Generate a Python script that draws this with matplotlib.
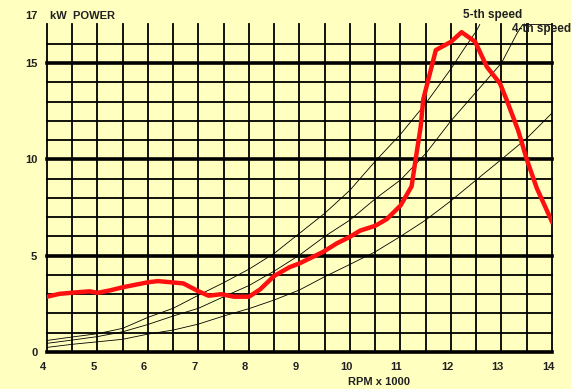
import matplotlib.pyplot as plt
import matplotlib.transforms as mtransforms
import numpy as np

plt.rcParams['font.family'] = ['Liberation Sans', 'DejaVu Sans']

# thin black resistance curves
rpm_a = [4.0, 4.5, 5.0, 5.5, 6.0, 6.5, 7.0, 7.5, 8.0, 8.5, 9.0, 9.5, 10.0,
         10.5, 11.0, 11.5, 12.0, 12.25, 12.5, 12.57]
kw_a = [0.6, 0.78, 0.95, 1.23, 1.8, 2.27, 2.95, 3.6, 4.3, 5.12, 6.16, 7.2, 8.4,
        9.9, 11.3, 12.9, 14.7, 15.7, 16.65, 17.0]

rpm_b = [4.0, 4.5, 5.0, 5.5, 6.0, 6.5, 7.0, 7.5, 8.0, 8.5, 9.0, 9.5, 10.0,
         10.5, 11.0, 11.5, 12.0, 12.5, 13.0, 13.3, 13.42, 14.0]
kw_b = [0.45, 0.62, 0.8, 1.05, 1.43, 1.87, 2.27, 2.87, 3.45, 4.2, 5.03, 6.0, 6.85,
        7.95, 8.93, 10.3, 12.0, 13.5, 15.0, 16.5, 17.0, 17.0]

rpm_c = [4.0, 4.5, 5.0, 5.5, 6.0, 6.5, 7.0, 7.5, 8.0, 8.5, 9.0, 9.5, 10.0,
         10.5, 11.0, 11.5, 12.0, 12.5, 13.0, 13.5, 14.0]
kw_c = [0.24, 0.4, 0.53, 0.66, 0.93, 1.14, 1.45, 1.87, 2.25, 2.7, 3.22, 3.91, 4.55,
        5.2, 6.0, 6.85, 7.85, 8.93, 10.0, 11.09, 12.4]

# engine power (red)
rpm_p = [4.0, 4.25, 4.6, 4.85, 5.0, 5.25, 5.5, 6.0, 6.2, 6.45, 6.7, 7.0, 7.2,
         7.45, 7.7, 8.0, 8.22, 8.5, 8.8, 9.0, 9.47, 9.74, 10.0, 10.2, 10.5,
         10.73, 11.0, 11.22, 11.3, 11.4, 11.45, 11.7, 12.0, 12.21, 12.48,
         12.71, 12.97, 13.1, 13.33, 13.5, 13.7, 14.0]
kw_p = [2.87, 3.02, 3.1, 3.15, 3.07, 3.2, 3.36, 3.62, 3.68, 3.62, 3.56, 3.15, 2.92,
        3.0, 2.87, 2.87, 3.25, 3.95, 4.4, 4.6, 5.2, 5.64, 5.98, 6.3, 6.55,
        6.9, 7.6, 8.6, 10.0, 11.7, 13.1, 15.67, 16.1, 16.6, 16.1,
        14.8, 13.94, 13.1, 11.5, 10.0, 8.5, 6.76]

x_ticks = [4, 5, 6, 7, 8, 9, 10, 11, 12, 13, 14]
y_ticks = [0, 5, 10, 15]

bg = '#FFFFC0'
txt = '#202020'
fig = plt.figure(figsize=(5.71, 3.89), dpi=100, facecolor=bg)
ax = fig.add_axes([0.0823, 0.0951, 0.8844, 0.842])
ax.set_facecolor(bg)

# grid
for xv in np.arange(4, 14.01, 0.5):
    ax.axvline(xv, color='black', lw=1.3, zorder=1, clip_on=False)
for yv in range(0, 17):
    thick = yv % 5 == 0
    ax.axhline(yv, color='black', lw=2.6 if thick else 1.3, zorder=1, clip_on=False)

ax.plot(rpm_a, kw_a, color='black', lw=0.6, zorder=2)
ax.plot(rpm_b, kw_b, color='black', lw=0.6, zorder=2)
ax.plot(rpm_c, kw_c, color='black', lw=0.6, zorder=2)
ax.plot(rpm_p, kw_p, color='#FF1010', lw=3.2, zorder=3, solid_joinstyle='round')

ax.set_xlim(4, 14)
ax.set_ylim(0, 17)
for s in ax.spines.values():
    s.set_visible(False)
ax.set_xticks(x_ticks)
ax.set_yticks(y_ticks)
ax.tick_params(length=0, labelsize=8)
ax.tick_params(axis='x', pad=7.5)
ax.tick_params(axis='y', pad=7)
ax.set_xticklabels([str(v) for v in x_ticks], fontweight='bold', color=txt)
ax.set_yticklabels([str(v) for v in y_ticks], fontweight='bold', color=txt)
shift = mtransforms.ScaledTranslation(-4 / 100, 0, fig.dpi_scale_trans)
for lab in ax.get_xticklabels():
    lab.set_transform(lab.get_transform() + shift)

ax.text(-0.018, 17.45, '17', transform=ax.get_yaxis_transform(), ha='right', va='center',
        fontsize=8, fontweight='bold', color=txt)
ax.text(4.05, 17.45, 'kW  POWER', ha='left', va='center', fontsize=8,
        fontweight='bold', color=txt, clip_on=False)
ax.text(12.24, 17.5, '5-th speed', ha='left', va='center', fontsize=8.5,
        fontweight='bold', color=txt, clip_on=False)
ax.text(13.21, 16.76, '4-th speed', ha='left', va='center', fontsize=8.5,
        fontweight='bold', color=txt, clip_on=False)
ax.set_xlabel('RPM x 1000', fontsize=8, fontweight='bold', color=txt, va='top')
ax.xaxis.set_label_coords(0.657, -0.077)

fig.savefig('out.png', dpi=100, facecolor=bg)
